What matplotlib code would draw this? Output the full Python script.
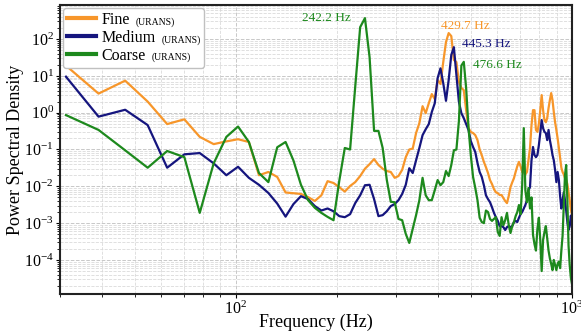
import numpy as np
import matplotlib
matplotlib.use("Agg")
import matplotlib.pyplot as plt
from matplotlib.ticker import NullFormatter
from matplotlib.offsetbox import AnchoredOffsetbox, HPacker, VPacker, TextArea, DrawingArea
from matplotlib.lines import Line2D

plt.rcParams['font.family'] = ['Liberation Serif', 'DejaVu Serif']
plt.rcParams['mathtext.fontset'] = 'custom'
plt.rcParams['mathtext.rm'] = 'Liberation Serif'

# frequency bins (df = 7.8125 Hz), 31.25 Hz .. 1000 Hz
df = 7.8125
freq = df * np.arange(4, 129)

fine_psd = [
    19, 3.3, 7.4, 2.0, 0.49, 0.66, 0.22, 0.14, 0.166, 0.19,
    0.16, 0.020, 0.0245, 0.018, 0.0068, 0.0065, 0.0062, 0.0051, 0.004, 0.0057,
    0.0138, 0.0123, 0.0095, 0.0072, 0.0102, 0.013, 0.019, 0.030, 0.040, 0.055,
    0.038, 0.030, 0.026, 0.0245, 0.017, 0.019, 0.028, 0.062, 0.10, 0.106,
    0.28, 0.52, 1.5, 0.97, 1.8, 3.2, 2.35, 7.7, 6.0, 23.7,
    83, 145, 120, 27, 23.7, 6.8, 4.7, 4.1, 1.17, 0.38,
    0.30, 0.28, 0.245, 0.18, 0.10, 0.07, 0.046, 0.033, 0.023, 0.0148,
    0.0115, 0.0084, 0.0069, 0.0065, 0.0058, 0.0058, 0.0048, 0.004, 0.0035, 0.0055,
    0.0095, 0.0128, 0.0166, 0.0245, 0.035, 0.046, 0.035, 0.0245, 0.0245, 0.021,
    0.0245, 0.051, 0.11, 0.46, 1.17, 1.17, 0.34, 0.30, 0.49, 1.17,
    3.0, 1.17, 0.63, 0.55, 0.71, 1.33, 2.2, 3.4, 2.2, 1.04,
    0.55, 0.34, 0.2, 0.11, 0.059, 0.032, 0.0245, 0.021, 0.0166, 0.0148,
    0.0115, 0.0069, 0.0043, 0.0023, 0.0017,
]

medium_psd = [
    9.5, 0.78, 1.2, 0.46, 0.032, 0.074, 0.08, 0.042, 0.02, 0.034,
    0.017, 0.011, 0.0066, 0.0034, 0.0015, 0.0033, 0.0054, 0.0045, 0.0029, 0.0022,
    0.0025, 0.0021, 0.00155, 0.00145, 0.00175, 0.0035, 0.0057, 0.0107, 0.011, 0.0045,
    0.00155, 0.00165, 0.0021, 0.0029, 0.0033, 0.0042, 0.0062, 0.011, 0.031, 0.023,
    0.051, 0.11, 0.245, 0.355, 0.49, 1.04, 1.8, 8.7, 16, 6.3,
    2.1, 7.7, 37, 60, 10.5, 1.95, 0.97, 0.71, 0.49, 0.34,
    0.17, 0.117, 0.085, 0.043, 0.0245, 0.018, 0.0107, 0.0057, 0.0045, 0.0037,
    0.0027, 0.0019, 0.00145, 0.00115, 0.00083, 0.00083, 0.00078, 0.00065, 0.00078, 0.00083,
    0.00078, 0.00083, 0.00107, 0.00115, 0.00107, 0.0014, 0.00175, 0.002, 0.0025, 0.0031,
    0.0042, 0.0078, 0.0095, 0.051, 0.117, 0.071, 0.062, 0.071, 0.13, 0.28,
    0.63, 0.38, 0.30, 0.28, 0.18, 0.34, 0.18, 0.117, 0.071, 0.051,
    0.028, 0.013, 0.0245, 0.0148, 0.0054, 0.0025, 0.0042, 0.0069, 0.0042, 0.0022,
    0.00107, 0.00065, 0.00083, 0.0016, 0.0009,
]

coarse_psd = [
    0.86, 0.34, 0.095, 0.032, 0.091, 0.062, 0.0019, 0.042, 0.22, 0.42,
    0.16, 0.023, 0.013, 0.115, 0.16, 0.05, 0.011, 0.0042, 0.0026, 0.0019,
    0.00148, 0.0012, 0.014, 0.11, 0.1, 5.0, 210, 370, 32, 0.32,
    0.32, 0.11, 0.015, 0.0038, 0.0037, 0.0013, 0.0012, 0.00051, 0.00029, 0.0007,
    0.00165, 0.0042, 0.017, 0.0057, 0.0042, 0.0042, 0.0078, 0.0148, 0.0107, 0.013,
    0.026, 0.019, 0.038, 0.095, 0.1, 0.6, 19, 24, 4.6, 0.4,
    0.071, 0.018, 0.009, 0.0042, 0.0014, 0.00107, 0.001, 0.0022, 0.002, 0.0013,
    0.00115, 0.0013, 0.00145, 0.00057, 0.00045, 0.00145, 0.00088, 0.0012, 0.0019, 0.00088,
    0.00054, 0.00083, 0.00107, 0.00155, 0.002, 0.0031, 0.00175, 0.0107, 0.38, 0.0078,
    0.0037, 0.009, 0.0025, 0.005, 0.00048, 0.00027, 0.00018, 0.0007, 0.0014, 0.00035,
    0.00005, 0.00035, 0.00057, 0.00083, 0.00039, 0.00018, 0.00011, 0.000078, 0.000053, 0.0001,
    0.000073, 0.000053, 0.000078, 0.00009, 0.00006, 0.00018, 0.00045, 0.0031, 0.02, 0.038,
    0.0042, 0.00025, 0.000073, 0.000033, 0.000022,
]

series_names = ["Fine", "Medium", "Coarse"]
series_colors = ["#f7962a", "#15157e", "#1d891d"]

# annotated peaks: frequency, which series, text offset (points)
peak_freqs = [242.1875, 429.6875, 445.3125, 476.5625]
peak_series = [2, 0, 1, 2]
peak_offsets = [(-28, 0), (12, 5), (23, 2.5), (24, -2.5)]

fig = plt.figure(figsize=(5.81, 3.36), dpi=100)
ax = fig.add_axes([60 / 581, 42 / 336, 512 / 581, 289 / 336])

all_psd = [fine_psd, medium_psd, coarse_psd]
for vals, c in zip(all_psd, series_colors):
    ax.plot(freq, vals, color=c, lw=1.6)

ax.set_xscale('log')
ax.set_yscale('log')
ax.set_xlim(30, 1000)
ax.set_ylim(1.19e-5, 8.4e2)
ax.xaxis.set_minor_formatter(NullFormatter())

ax.grid(which='major', ls='--', color='#c8c8c8', lw=0.7)
ax.grid(which='minor', ls='--', color='#dadada', lw=0.6)
ax.set_axisbelow(True)

ax.tick_params(which='major', direction='out', length=3, width=0.8, labelsize=11.5, pad=1.5)
ax.tick_params(which='minor', direction='out', length=2, width=0.6)
for sp in ax.spines.values():
    sp.set_linewidth(1.5)
    sp.set_color('#222222')

ax.set_xlabel('Frequency (Hz)', fontsize=13, labelpad=-3)
ax.set_ylabel('Power Spectral Density', fontsize=13)
ax.yaxis.set_label_coords(-0.071, 0.5)

for f, si, off in zip(peak_freqs, peak_series, peak_offsets):
    idx = int(round(f / df)) - 4
    ax.annotate(f"{f:.1f} Hz", xy=(freq[idx], all_psd[si][idx]), xytext=off,
                textcoords='offset points', ha='center', va='center',
                color=series_colors[si], fontsize=9.5)

# legend with small "(URANS)" tag
rows = []
for name, c in zip(series_names, series_colors):
    da = DrawingArea(21, 9, 0, 0)
    da.add_artist(Line2D([0, 21], [4.3, 4.3], color=c, lw=3))
    t1 = TextArea(name, textprops=dict(fontsize=11.5))
    t2 = TextArea("(URANS)", textprops=dict(fontsize=7))
    rows.append(HPacker(children=[da, t1, t2], align="baseline", pad=0, sep=4))
box = VPacker(children=rows, align="left", pad=0, sep=1)
leg = AnchoredOffsetbox(loc="upper left", child=box, pad=0.25, borderpad=0.25, frameon=True)
leg.patch.set_boxstyle("round,pad=0,rounding_size=0.2")
leg.patch.set_edgecolor("#c0c0c0")
leg.patch.set_facecolor("white")
ax.add_artist(leg)

fig.savefig("out.png", dpi=100)
